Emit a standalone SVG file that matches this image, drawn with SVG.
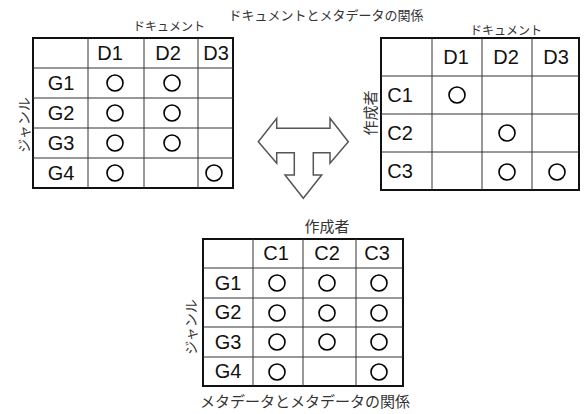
<svg xmlns="http://www.w3.org/2000/svg" width="585" height="414" viewBox="0 0 585 414">
<style>
.outer{fill:#fff;stroke:#111;stroke-width:2}
.grid{stroke:#333;stroke-width:1;fill:none}
.lbl{font-family:"Liberation Sans",Arial,sans-serif;font-size:20px;fill:#111;text-anchor:middle}
.jp{font-family:"Noto Sans CJK JP",sans-serif;fill:#333;text-anchor:middle}
.mk{fill:none;stroke:#000;stroke-width:1.6}
.arrow{fill:#fff;stroke:#555;stroke-width:1.5;stroke-linejoin:miter}
</style>
<rect width="585" height="414" fill="#fff"/>
<text class="jp" x="326" y="20" font-size="13">ドキュメントとメタデータの関係</text>

<g id="table-genre-doc">
<text class="jp" x="169" y="31" font-size="12">ドキュメント</text>
<text class="jp" font-size="14" transform="translate(29,125) rotate(-90)">ジャンル</text>
<rect class="outer" x="33" y="38" width="200" height="150"/>
<path class="grid" d="M88 38V188M144 38V188M198 38V188M33 68H233M33 98H233M33 128H233M33 158H233"/>
<text class="lbl" x="110" y="60">D1</text><text class="lbl" x="168" y="60">D2</text><text class="lbl" x="216" y="60">D3</text>
<text class="lbl" x="61" y="90">G1</text><text class="lbl" x="61" y="120">G2</text><text class="lbl" x="61" y="150">G3</text><text class="lbl" x="61" y="180">G4</text>
<circle class="mk" cx="115" cy="83" r="8"/><circle class="mk" cx="172" cy="83" r="8"/>
<circle class="mk" cx="115" cy="113" r="8"/><circle class="mk" cx="172" cy="113" r="8"/>
<circle class="mk" cx="115" cy="143" r="8"/><circle class="mk" cx="172" cy="143" r="8"/>
<circle class="mk" cx="115" cy="173" r="8"/><circle class="mk" cx="214" cy="173" r="8"/>
</g>

<g id="table-author-doc">
<text class="jp" x="506" y="35" font-size="12">ドキュメント</text>
<text class="jp" font-size="15" transform="translate(376,113) rotate(-90)">作成者</text>
<rect class="outer" x="381" y="38" width="198" height="152"/>
<path class="grid" d="M432 38V190M482 38V190M532 38V190M381 76H579M381 114H579M381 152H579"/>
<text class="lbl" x="456" y="64">D1</text><text class="lbl" x="506" y="64">D2</text><text class="lbl" x="556" y="64">D3</text>
<text class="lbl" x="400" y="102">C1</text><text class="lbl" x="400" y="140">C2</text><text class="lbl" x="400" y="178">C3</text>
<circle class="mk" cx="457" cy="95" r="8"/>
<circle class="mk" cx="507" cy="133" r="8"/>
<circle class="mk" cx="507" cy="172" r="8"/><circle class="mk" cx="557" cy="172" r="8"/>
</g>

<g id="connectors">
<path id="arrow" class="arrow" d="M258.3 141.7L276.7 118.3V128.3H330V118.3L348.3 141.7L330 163.3V152.7H313.3V175H321.7L303.3 198.3L285 175H294.3V152.7H276.7V163.3Z"/>
</g>

<g id="table-genre-author">
<text class="jp" x="327" y="232" font-size="15">作成者</text>
<text class="jp" font-size="14" transform="translate(196,327) rotate(-90)">ジャンル</text>
<rect class="outer" x="203" y="239" width="200" height="147"/>
<path class="grid" d="M253 239V386M303 239V386M356 239V386M203 268H403M203 298H403M203 327H403M203 357H403"/>
<text class="lbl" x="276" y="260">C1</text><text class="lbl" x="327" y="260">C2</text><text class="lbl" x="377" y="260">C3</text>
<text class="lbl" x="228" y="290">G1</text><text class="lbl" x="228" y="319">G2</text><text class="lbl" x="228" y="349">G3</text><text class="lbl" x="228" y="378">G4</text>
<circle class="mk" cx="277" cy="283" r="8"/><circle class="mk" cx="327" cy="283" r="8"/><circle class="mk" cx="379" cy="283" r="8"/>
<circle class="mk" cx="277" cy="313" r="8"/><circle class="mk" cx="327" cy="313" r="8"/><circle class="mk" cx="379" cy="313" r="8"/>
<circle class="mk" cx="277" cy="342" r="8"/><circle class="mk" cx="327" cy="342" r="8"/><circle class="mk" cx="379" cy="342" r="8"/>
<circle class="mk" cx="277" cy="372" r="8"/><circle class="mk" cx="379" cy="372" r="8"/>
</g>
<text class="jp" x="305" y="407" font-size="15">メタデータとメタデータの関係</text>
</svg>
